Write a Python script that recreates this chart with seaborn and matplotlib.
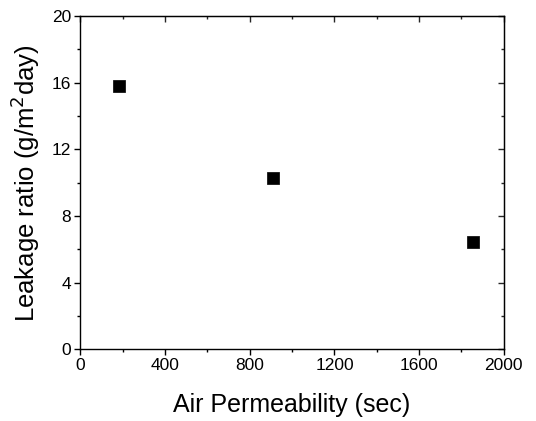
import pandas as pd
import matplotlib
matplotlib.use("Agg")
import matplotlib.pyplot as plt
import seaborn as sns
from matplotlib.ticker import MultipleLocator

# values
air_permeability = [184, 912, 1852]
leakage_ratio = [15.8, 10.3, 6.45]

df = pd.DataFrame({"air": air_permeability, "leak": leakage_ratio})

sns.set_style("ticks")
plt.rcParams["font.family"] = ["Liberation Sans", "DejaVu Sans"]
plt.rcParams["text.color"] = "black"
plt.rcParams["axes.labelcolor"] = "black"

fig, ax = plt.subplots(figsize=(5.36, 4.21), dpi=100)
fig.subplots_adjust(left=0.15, right=0.94, top=0.962, bottom=0.17)

sns.scatterplot(data=df, x="air", y="leak", marker="s", s=80,
                color="black", edgecolor="black", linewidth=0.5, ax=ax)

ax.set_xlim(0, 2000)
ax.set_ylim(0, 20)
ax.xaxis.set_major_locator(MultipleLocator(400))
ax.xaxis.set_minor_locator(MultipleLocator(200))
ax.yaxis.set_major_locator(MultipleLocator(4))
ax.yaxis.set_minor_locator(MultipleLocator(2))

for side in ["top", "right", "bottom", "left"]:
    ax.spines[side].set_visible(True)
    ax.spines[side].set_linewidth(1.0)
    ax.spines[side].set_color("black")

ax.tick_params(which="both", direction="out", top=False, right=False,
               labelsize=12.5, width=1.0, colors="black", pad=2.5)
ax.tick_params(which="major", length=4)
ax.tick_params(which="minor", length=2.5)

# inward ticks on top and right
ax_t = ax.secondary_xaxis("top")
ax_t.xaxis.set_major_locator(MultipleLocator(400))
ax_t.xaxis.set_minor_locator(MultipleLocator(200))
ax_t.tick_params(which="both", direction="in", labeltop=False, width=1.0)
ax_t.tick_params(which="major", length=4)
ax_t.tick_params(which="minor", length=2.5)
ax_r = ax.secondary_yaxis("right")
ax_r.yaxis.set_major_locator(MultipleLocator(4))
ax_r.yaxis.set_minor_locator(MultipleLocator(2))
ax_r.tick_params(which="both", direction="in", labelright=False, width=1.0)
ax_r.tick_params(which="major", length=4)
ax_r.tick_params(which="minor", length=2.5)

ax.set_xlabel("Air Permeability (sec)", fontsize=18, labelpad=14, color="black")
ax.set_ylabel("Leakage ratio (g/m$^2$day)", fontsize=18.5, labelpad=7, color="black")

fig.savefig("out.png", dpi=100)
